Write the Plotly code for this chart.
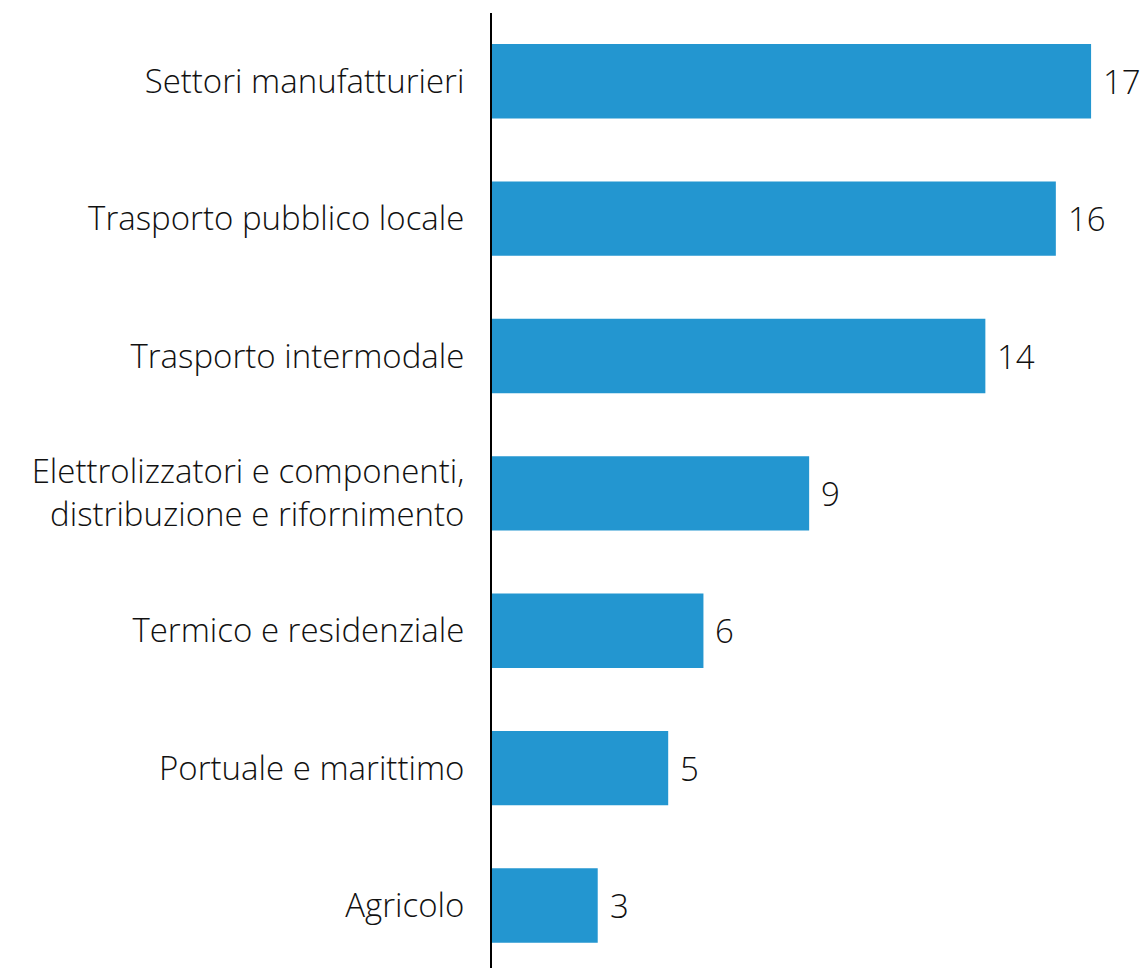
import plotly.graph_objects as go

# Number of projects per application sector
categories = [
    "Settori manufatturieri",
    "Trasporto pubblico locale",
    "Trasporto intermodale",
    "Elettrolizzatori e componenti,<br>distribuzione e rifornimento",
    "Termico e residenziale",
    "Portuale e marittimo",
    "Agricolo",
]
values = [17, 16, 14, 9, 6, 5, 3]

BAR_COLOR = "#2396D0"
FONT = "Segoe UI Light, Open Sans, Lato, sans-serif"
FONT_SIZE = 33

positions = list(range(len(categories)))

fig = go.Figure(
    go.Bar(
        x=values,
        y=positions,
        orientation="h",
        width=0.542,
        marker=dict(color=BAR_COLOR, line=dict(width=0)),
        hoverinfo="skip",
    )
)

# value labels to the right of each bar
for p, v in zip(positions, values):
    fig.add_annotation(
        x=v, y=p, text=str(v), showarrow=False,
        xanchor="left", yanchor="middle", xshift=10,
        font=dict(family=FONT, size=FONT_SIZE, color="#111111", weight=300),
    )

fig.update_layout(
    width=1145,
    height=968,
    margin=dict(l=492, r=0, t=13, b=0),
    plot_bgcolor="white",
    paper_bgcolor="white",
    showlegend=False,
    xaxis=dict(
        range=[0, 18.53],
        visible=False,
        showgrid=False,
        zeroline=False,
    ),
    yaxis=dict(
        range=[6.455, -0.497],
        tickmode="array",
        tickvals=positions,
        ticktext=categories,
        showgrid=False,
        zeroline=False,
        showline=True,
        linecolor="black",
        linewidth=2,
        ticks="",
        ticklabelstandoff=19,
        tickfont=dict(family=FONT, size=FONT_SIZE, color="#111111", weight=300),
    ),
)

fig.write_html("out.html")
